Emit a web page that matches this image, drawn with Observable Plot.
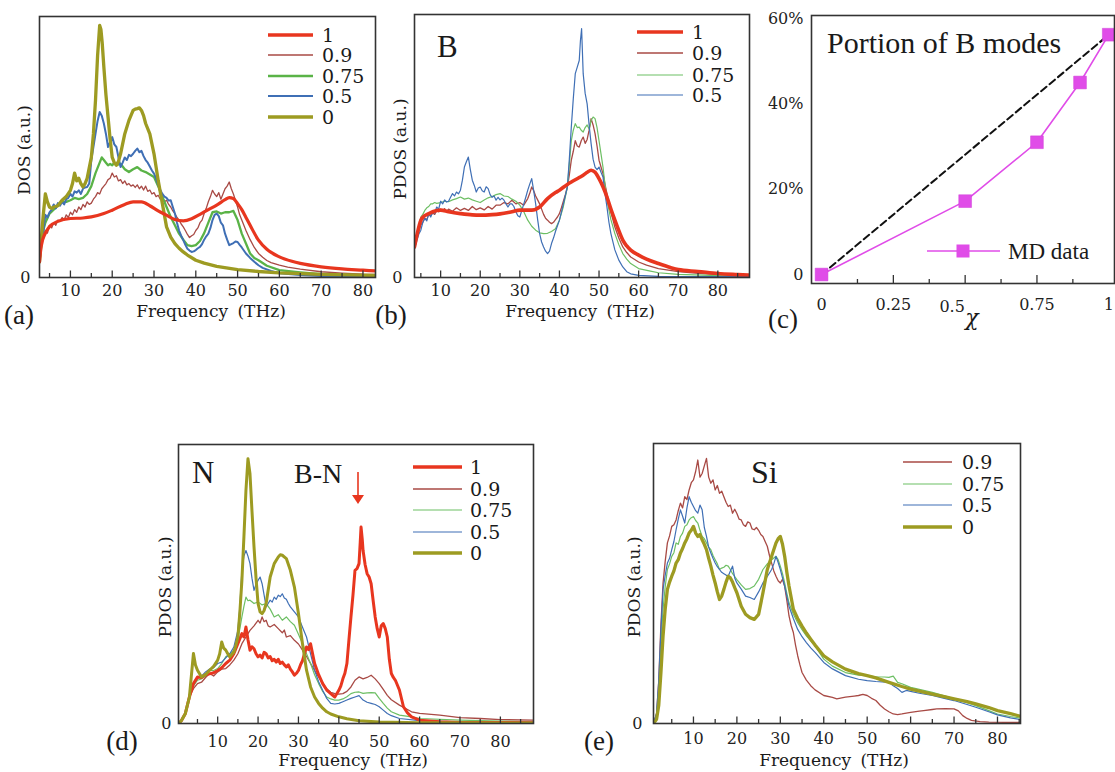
<!DOCTYPE html>
<html>
<head>
<meta charset="utf-8">
<script src="https://cdn.jsdelivr.net/npm/d3@7"></script>
<script src="https://cdn.jsdelivr.net/npm/@observablehq/plot@0.6"></script>
<style>
  html, body { margin: 0; padding: 0; background: #fff; overflow: hidden; }
  #fig { position: relative; width: 1115px; height: 772px; }
  #fig > svg { position: absolute; overflow: visible; }
</style>
</head>
<body>
<div id="fig"></div>
<script>
// ---------- spectra: [frequency (THz), density (% of panel height)] ----------

// (a) total DOS
const dosA_1 = [[2.6,6],[3,12],[4,17],[5,19.5],[7,21.5],[10,22.6],[13,22.8],[15,23.2],[18,24.5],[20,25.8],[23,28],[25,29],[27,29],[29,27.5],[31,25.5],[33,23.9],[35,22.2],[37,21.7],[39,22.5],[41,24.2],[43,26],[45,27.7],[47,29.8],[48,30.6],[49,30.2],[50,28.3],[51,26],[52,23],[53,20],[55,14.3],[57,10.8],[60,7.9],[63,6.2],[65,5.4],[70,4.1],[75,3.3],[80,2.8],[83,2.5]];
const dosA_09 = [[2.6,6],[3,12],[3.5,16],[4,18],[4.5,17],[5,20],[5.5,19],[6,21],[6.5,20],[7,22],[7.5,21.5],[8,23],[8.5,22],[9,24],[9.5,23],[10,25],[10.5,24],[11,26],[11.5,25],[12,27],[12.5,26],[13,28],[13.5,27],[14,29],[14.5,28],[15,28.5],[15.5,30],[16,31],[16.5,32.5],[17,32],[17.5,34],[18,35],[18.5,36],[19,37.5],[19.5,38],[20,40],[20.5,38.5],[21,39],[21.5,37],[22,37.5],[22.5,36],[23,37],[23.5,35.5],[24,36],[24.5,35],[25,35.5],[25.5,34.5],[26,35.5],[26.5,34],[27,35],[27.5,33.5],[28,35],[28.5,33],[29,33.5],[29.5,32],[30,32.5],[30.5,31],[31,31.5],[31.5,30],[32,30.5],[32.5,29],[33,29.6],[33.5,28],[34,27],[34.5,25.5],[35,24.5],[35.5,23],[36,22],[36.5,20.5],[37,19.4],[37.5,18],[38,16.5],[38.5,15.3],[39,16],[39.5,16.5],[40,18],[40.5,19],[41,21],[41.5,22],[42,24.5],[42.5,26.5],[43,29],[43.5,31],[44,33.4],[44.5,32],[45,31],[45.5,32.5],[46,30],[46.5,32],[47,34],[47.5,35],[48,36.6],[48.5,34],[49,32],[49.5,29.5],[50,27],[50.5,24],[51,22],[52,18],[53,14.5],[54,11.5],[55,9.2],[56,7.8],[57,6.5],[58,5.7],[60,4.7],[62,4],[65,3.2],[70,2.2],[75,1.7],[80,1.3],[83,1.2]];
const dosA_075 = [[2.6,6],[3,12],[3.5,18],[4,21],[5,24.5],[6,26],[7,27.5],[8,29],[9,29],[10,29.6],[11,30.5],[12,30],[13,30.5],[14,32],[15,35],[16,40],[17,44],[17.5,46],[18,45],[18.5,44],[19,43],[19.5,43.5],[20,43],[20.5,44],[21,43],[22,43.6],[23,41.5],[24,40.4],[25,41.5],[26,42.3],[27,41],[28,40.4],[29,39.5],[30,38.5],[31,35],[32,31],[33,27],[34,23.2],[35,20],[36,16.8],[37,14.5],[38,12.4],[39,12],[40,12.4],[41,14],[42,17],[43,21],[44,25],[45,25.3],[46,24.5],[47,25],[48,25],[49,25.5],[50,22],[51,16.8],[52,13],[53,9.2],[54,7.5],[55,6.6],[57,4.5],[60,2.8],[65,2],[70,1.3],[75,1],[83,0.8]];
const dosA_05 = [[2.6,6],[3,12],[3.5,17],[4,24],[4.5,23],[5,25],[5.5,26],[6,28],[6.5,26.5],[7,28.5],[7.5,27.5],[8,29],[8.5,28],[9,30],[9.5,30.5],[10,32],[10.5,31],[11,33],[11.5,32.5],[12,33.4],[12.5,32],[13,34],[13.5,34.5],[14,34.7],[14.5,36],[15,45],[15.5,50],[16,55],[16.5,60],[17,63.4],[17.5,62],[18,59],[18.5,55],[19,50],[19.5,52],[20,53.8],[20.5,51],[21,50],[21.5,46],[22,42.3],[22.5,44],[23,46],[23.5,45],[24,47],[24.5,46.5],[25,47.4],[25.5,48.5],[26,49.4],[26.5,48],[27,48.5],[27.5,46.5],[28,45],[28.5,44],[29,42.5],[29.5,41],[30,39.8],[30.5,38],[31,35.5],[31.5,33.5],[32,32],[32.5,31],[33,30.5],[33.5,29.5],[34,29.6],[34.5,27],[35,24.5],[35.5,21],[36,18],[36.5,16],[37,14.3],[37.5,12.5],[38,11],[38.5,10.3],[39,9.8],[39.5,10],[40,10.5],[40.5,11.2],[41,11.7],[41.5,12.8],[42,14.5],[42.5,15.8],[43,16.8],[43.5,19],[44,22],[44.5,24],[45,24.5],[45.5,23.5],[46,21],[46.5,20],[47,16.8],[47.5,14.5],[48,12.4],[48.5,12.8],[49,13.2],[49.5,13.8],[50,13.6],[50.5,12.5],[51,11.5],[52,9.2],[53,7.5],[54,6],[55,4.7],[56,3.7],[58,2.5],[60,1.6],[65,1],[70,0.6],[83,0.3]];
const dosA_0 = [[2.6,6],[3,14],[3.5,24],[4,32],[4.5,29],[5,27],[5.5,26.5],[6,27],[7,27.5],[8,29.6],[9,31],[10,33.4],[10.5,36],[11,40],[11.5,37],[12,38],[12.5,36],[13,34.7],[13.5,36],[14,38],[14.5,42],[15,46],[15.5,55],[16,67.9],[16.5,85],[17,96.6],[17.3,95],[17.6,90],[18,80.6],[18.5,70],[19,61.5],[19.5,53],[20,46],[20.5,44],[21,43],[21.5,44.5],[22,47.4],[23,55],[24,60.2],[25,64],[25.5,64.5],[26,64.7],[26.5,65],[27,64],[27.5,62],[28,59],[29,55],[30,47.4],[31,37.2],[32,28.3],[33,19.4],[34,15.5],[35,13],[36,11.2],[37,9.8],[38,8.6],[40,6.6],[42,5.5],[45,4.3],[50,3],[55,2.3],[60,1.8],[70,1.2],[83,0.8]];

// (b) boron partial DOS
const pdosB_1 = [[3.4,11.6],[4,16],[5,21.8],[6,23.5],[7,24.3],[8,25],[10,25.6],[12,25],[15,24.3],[18,23.8],[20,23.7],[23,23.9],[25,24.2],[28,25],[30,25.6],[33,25.6],[35,26.8],[37,30],[39,32.3],[40,33.2],[42,35.4],[43,36.3],[45,38],[46,38.9],[47,40],[48,40.8],[49,40],[50,37.6],[51,34.5],[52,30.6],[53,26],[54,21.8],[55,17.8],[56,14.2],[57,12],[58,10.4],[60,8.5],[62,7],[65,5.3],[68,3.8],[70,3],[75,2.3],[80,1.5],[85,1.1],[88,0.9]];
const pdosB_09 = [[3.4,11],[4,15],[4.5,17.5],[5,20],[5.5,21],[6,22.5],[6.5,22],[7,24],[7.5,23.5],[8,24.5],[8.5,24],[9,25.5],[9.5,25],[10,26],[10.5,25.2],[11,26.2],[11.5,25],[12,26],[13,25.2],[14,26.5],[15,25.5],[16,26.3],[17,25.5],[18,27],[19,25.8],[20,26.5],[21,25.7],[22,27],[23,26],[24,27.5],[25,27.5],[26,28.5],[27,28],[28,29.4],[29,28],[30,28.5],[31,27.5],[32,30],[32.5,32],[33,34.4],[33.5,33],[34,31],[34.5,29.5],[35,28],[35.5,26],[36,24],[36.5,22.5],[37,21.8],[37.5,21],[38,20.5],[38.5,21],[39,22],[39.5,23],[40,24.3],[40.5,26.5],[41,29],[41.5,31.5],[42,34.4],[42.5,39],[43,44.6],[43.5,48],[44,52],[44.5,50],[45,49.6],[45.5,52],[46,53.4],[46.5,51],[47,52.5],[47.5,56],[48,60.4],[48.5,58],[49,54.7],[49.5,50],[50,44.6],[50.5,42],[51,39.5],[51.5,35.5],[52,31.9],[53,25],[54,19.2],[55,15],[56,11.6],[57,9.5],[58,7.8],[60,5.9],[62,4.7],[65,3.4],[70,2.2],[75,1.6],[80,1.1],[88,0.7]];
const pdosB_075 = [[3.4,11],[4,16],[4.5,19],[5,23],[5.5,24],[6,25.5],[6.5,26.5],[7,27],[7.5,28],[8,28],[8.5,28.5],[9,28.2],[10,28.5],[11,29],[12,28.8],[13,29.5],[14,30],[15,30.6],[16,29.8],[17,30.2],[18,29.5],[19,29],[20,28.5],[21,29.5],[22,30.3],[23,30.8],[24,31.5],[25,31.9],[26,31],[27,30.8],[28,29.8],[29,29],[30,27.5],[31,25],[32,21.8],[33,19.5],[34,18],[35,17],[36,16.7],[37,16.8],[38,17.5],[39,18.5],[40,21.8],[41,27],[42,34.4],[42.5,43],[43,52],[43.5,56],[44,58.5],[44.5,57],[45,57.2],[45.5,56],[46,55.3],[46.5,57],[47,58],[47.5,56.5],[48,59.7],[48.5,61],[49,60.4],[49.5,57],[50,52],[50.5,47],[51,42],[51.5,35.5],[52,29.4],[53,22],[54,16.7],[55,12.5],[56,9.1],[57,7],[58,5.3],[60,3.4],[63,2.4],[65,1.8],[70,1.2],[80,0.7],[88,0.5]];
const pdosB_05 = [[3.4,11],[4,14],[4.5,16.5],[5,18],[5.5,21],[6,22.5],[6.5,21.5],[7,24.3],[7.5,23],[8,25],[8.5,24.5],[9,26.8],[9.5,26],[10,29],[10.5,28],[11,29.5],[11.5,28.7],[12,29],[12.5,30.5],[13,31.9],[13.5,31],[14,32.5],[14.5,31.8],[15,33.2],[15.5,37],[16,42],[16.5,44],[17,45.8],[17.5,41],[18,37],[18.5,35],[19,32.5],[19.5,34],[20,34.4],[20.5,33],[21,32.5],[21.5,34.5],[22,33.8],[22.5,31.5],[23,30.5],[23.5,31],[24,29.4],[24.5,30.5],[25,29.5],[25.5,30.2],[26,29.4],[26.5,28],[27,26.8],[27.5,28],[28,28],[28.5,27],[29,25],[29.5,23.5],[30,23],[30.5,25.5],[31,28],[31.5,30.5],[32,33.2],[32.5,35.5],[33,37.6],[33.5,33],[34,28],[34.5,22],[35,16.7],[35.5,13.5],[36,11.6],[36.5,10],[37,9.1],[37.5,10],[38,12.9],[38.5,15],[39,17.5],[40,21.8],[41,28],[42,34.4],[42.5,45],[43,57.2],[43.5,68],[44,77.5],[44.5,80],[45,82.5],[45.3,90],[45.6,94.6],[46,77.5],[46.5,70],[47,66],[47.5,58],[48,50.9],[48.5,45],[49,42],[49.5,41],[50,42],[50.5,40],[51,38.2],[51.5,32],[52,26.8],[52.5,21],[53,16.7],[54,10.5],[55,6.6],[56,4],[57,2.2],[58,1.4],[60,0.8],[65,0.4],[88,0.3]];

// (c) fraction of boron-dominated modes versus composition
const chi = [0, 0.5, 0.75, 0.9, 1];
const portionB = [0, 17.2, 31, 45, 56.2];
const chiTicks = [0, 0.25, 0.5, 0.75, 1];
const chiTickLabels = ["0", "0.25", "0.5", "0.75", "1"];
const portionTicks = [0, 20, 40, 60];
const portionTickLabels = ["0", "20%", "40%", "60%"];

// (d) nitrogen partial DOS
const pdosN_1 = [[0.3,0],[1,1],[2,3.6],[3,9.5],[4,14.3],[5,16.7],[6,16.5],[7,17.5],[8,17.8],[9,18.2],[10,19],[11,20],[12,21.5],[13,22.7],[14,25],[15,28.6],[16,32.2],[16.5,31],[17,34.6],[17.5,30],[18,26.3],[18.5,27.5],[19,26.8],[19.5,25],[20,23.9],[20.5,24.5],[21,23.5],[21.5,25.5],[22,25],[22.5,23.5],[23,24],[23.5,22.5],[24,23],[24.5,22],[25,23],[25.5,21.5],[26,22],[26.5,21],[27,20.3],[27.5,21],[28,19.5],[28.5,18.5],[29,17.3],[29.5,18],[30,19],[30.5,21],[31,22.5],[31.5,25],[32,27.4],[32.5,26.5],[33,28.6],[33.5,25],[34,21.5],[35,17.5],[36,14.3],[37,12],[38,10.7],[39,9.5],[40,11.9],[40.5,13.5],[41,16],[41.5,18],[42,21.5],[42.5,30],[43,38.2],[43.5,46],[44,54.9],[44.5,55.5],[45,57.3],[45.3,65],[45.5,70.4],[45.8,66],[46,62],[46.5,57],[47,53.7],[47.5,52.5],[48,50.1],[48.5,44],[49,38.2],[49.5,34],[50,31],[50.5,35],[51,35.8],[51.5,34],[52,31],[52.5,23],[53,17.9],[53.5,16.5],[54,15.5],[55,12],[56,6],[57,3.8],[58,2.4],[60,1.2],[65,0.6],[70,0.4],[88,0.3]];
const pdosN_09 = [[0.3,0],[1,1],[2,3.6],[3,9.5],[4,12.5],[5,14.3],[6,14.8],[7,16.5],[8,17.9],[9,17],[10,18.5],[11,19.5],[12,19.7],[13,21],[14,22.7],[15,25],[16,28.6],[17,31],[18,33.4],[19,35],[20,37],[20.5,36],[21,38.2],[21.5,36.5],[22,37],[22.5,35],[23,34.6],[24,35.5],[25,34],[26,32.5],[26.5,33.5],[27,31],[28,31.5],[29,29.8],[30,28.5],[31,26.3],[32,24],[33,21.5],[34,19],[35,16.7],[36,14.5],[37,12.5],[38,11.2],[39,10.7],[40,10.5],[41,10.7],[42,11.5],[43,13.1],[44,15.5],[45,16.7],[46,16],[47,16.5],[48,17.3],[49,16],[50,14.3],[51,12.2],[52,10.1],[53,8.5],[55,6.6],[57,5],[58,4.2],[60,3.6],[65,3],[70,2.1],[75,1.8],[80,1.4],[88,1.2]];
const pdosN_075 = [[0.3,0],[1,1],[2,3.6],[3,9.5],[4,13.5],[5,15.5],[6,16],[7,17],[8,19],[9,19],[10,19.7],[11,21.5],[12,23.9],[13,25],[14,26.3],[15,30],[16,38.2],[16.5,42],[17,45.3],[17.5,44],[18,44.2],[19,43],[20,43.6],[21,42.5],[22,43],[23,41],[24,38.2],[25,39],[26,37],[27,38.2],[28,36.5],[29,35.2],[30,32],[31,28.6],[32,25],[33,21.5],[34,17.5],[35,14.3],[36,11.5],[37,9.5],[38,8.8],[39,8.4],[40,8.4],[41,8.8],[42,9.6],[43,10.7],[44,11.2],[45,11.3],[46,10.8],[47,11],[48,11.1],[49,11],[50,9],[51,7.2],[52,5.5],[53,4.2],[55,3],[58,2.4],[60,1.8],[70,1.2],[88,0.6]];
const pdosN_05 = [[0.3,0],[1,1],[2,3.6],[3,9.5],[4,14],[5,16.1],[6,17],[7,18.5],[8,19.5],[9,20],[10,21.5],[11,22],[12,23.5],[13,25],[14,27.4],[15,33.4],[15.5,42],[16,54.9],[16.5,60],[17,62],[17.5,60],[18,57.3],[18.5,52],[19,47.7],[19.5,50],[20,51.3],[20.5,52.5],[21,50.1],[21.5,46],[22,41.8],[22.5,43],[23,44.2],[23.5,43.5],[24,45.3],[24.5,44.5],[25,46],[25.5,45.5],[26,46.5],[26.5,45],[27,44.5],[27.5,43],[28,41.8],[29,40],[30,38.2],[31,34.5],[32,31],[33,25],[34,19.1],[35,15],[36,11.9],[37,9],[38,7.2],[39,7],[40,7.2],[41,7.8],[42,8.4],[43,9],[44,9.5],[45,10],[45.5,9.2],[46,8.4],[47,7.6],[48,7.2],[49,6.8],[50,6],[51,4.8],[52,3.6],[53,2.8],[55,1.8],[60,1],[70,0.6],[88,0.4]];
const pdosN_0 = [[0.3,0],[1,1],[2,3.6],[3,9.5],[4,25.1],[4.5,21],[5,19.1],[6,16.7],[7,17.5],[8,19.1],[9,20.5],[10,22.7],[10.5,25],[11,29.2],[11.5,27],[12,26.3],[12.5,25],[13,23.9],[14,25.5],[14.5,28],[15,31],[15.5,40],[16,51.3],[16.5,67],[17,83.5],[17.5,94.9],[18,89.5],[18.5,76],[19,63.2],[19.5,52],[20,43],[20.5,40],[21,39.4],[21.5,40.5],[22,43],[23,52.5],[24,57.3],[25,59.7],[25.5,60.5],[26,60.3],[27,59.1],[28,54.9],[29,48.9],[30,39.4],[31,28.6],[32,19.1],[33,13.1],[34,9.5],[35,7.2],[36,5.5],[37,4.2],[38,3.4],[40,2.4],[42,1.7],[45,1],[50,0.5],[60,0.3],[88,0.2]];

// (e) silicon partial DOS
const pdosSi_09 = [[0.8,0],[1.5,3.5],[2,15],[2.5,35],[3,50.2],[3.5,58],[4,64.5],[4.5,67],[5,70.4],[5.5,71],[6,72.7],[6.5,76],[7,78.7],[7.5,77],[8,81],[8.5,80],[9,83.4],[9.5,86],[10,87],[10.5,90],[11,94.1],[11.5,88],[12,89.3],[12.5,92],[13,94.7],[13.5,88],[14,85.8],[14.5,87],[15,83.4],[15.5,85],[16,82.2],[16.5,83],[17,81],[17.5,79],[18,77.5],[18.5,78],[19,75.1],[19.5,76.5],[20,75],[20.5,73],[21,72.7],[21.5,71],[22,70.4],[22.5,72],[23,71.6],[23.5,69.5],[24,69.2],[24.5,70],[25,69],[25.5,67.5],[26,66.8],[26.5,65],[27,63.3],[27.5,60],[28,57.3],[28.5,54.5],[29,52.6],[29.5,51],[30,50.2],[30.5,51.5],[31,49],[31.5,44],[32,38.4],[32.5,35],[33,32.5],[33.5,28],[34,24.2],[34.5,21],[35,18.2],[36,15.5],[37,13.5],[38,12],[40,10],[42,9.3],[43,8.8],[45,9.4],[47,9.8],[48,10],[49,10.4],[50,10],[51,9],[52,8.2],[53,6.5],[54,5.2],[55,4.2],[56,3.4],[57,3.2],[58,3.4],[60,4],[62,4.4],[63,4.6],[65,5],[66,5.2],[68,5.3],[70,5.2],[71,4.5],[72,2.8],[73,1.8],[74,1.1],[76,0.7],[78,0.5],[82,0.4],[85.3,0.4]];
const pdosSi_075 = [[0.8,0],[1.5,3],[2,12],[2.5,28],[3,40.8],[3.5,49],[4,55],[4.5,57],[5,59.7],[5.5,61],[6,64.5],[6.5,64],[7,66.8],[7.5,68],[8,70.4],[8.5,71],[9,72.7],[9.5,73.5],[10,73.9],[10.5,72.5],[11,71.6],[11.5,69],[12,66.8],[12.5,66],[13,64.5],[13.5,63],[14,62.1],[14.5,60],[15,58.5],[15.5,57],[16,55],[16.5,55.5],[17,55.8],[17.5,56.5],[18,56.2],[18.5,55],[19,53.5],[19.5,52.5],[20,51.4],[21,49.5],[22,47.9],[23,48.2],[24,49.1],[25,51.5],[26,55],[27,57],[28,58.5],[29,59.7],[29.5,58.5],[30,56.2],[30.5,53.5],[31,50.2],[31.5,46.5],[32,43.1],[33,39],[34,36],[35,33.5],[36,31.3],[37,29.5],[38,27.7],[40,23],[42,20.5],[45,18.2],[48,17.3],[50,17.1],[52,16.7],[54,16.6],[55,16.5],[56,16.9],[57,14.7],[58,14.2],[60,12.9],[62,12.2],[65,11.1],[68,9.8],[70,8.8],[73,7.4],[75,6.4],[78,4.6],[80,3.4],[83,2.5],[85.3,1.9]];
const pdosSi_05 = [[0.8,0],[1.5,3.5],[2,15],[2.5,33],[3,47.9],[3.5,53],[4,57.3],[4.5,59],[5,62.1],[5.5,65],[6,69.2],[6.5,73],[7,76.3],[7.5,74],[8,71.6],[8.5,77],[9,81],[9.5,79],[10,77.5],[10.5,76],[11,75.1],[11.5,78],[12,76.3],[12.5,70],[13,66.8],[13.5,63],[14,60.9],[14.5,59],[15,57.3],[15.5,56],[16,55],[16.5,54],[17,53.5],[17.5,53],[18,52.6],[18.5,54.5],[19,56.2],[19.5,52],[20,50.2],[21,48],[22,45.5],[23,45],[24,44.3],[25,47],[26,50.2],[27,52.5],[28,55],[28.5,57],[29,59.7],[29.5,57.5],[30,55],[30.5,52],[31,49.1],[31.5,45.5],[32,41.9],[33,37.5],[34,33.6],[35,31],[36,28.9],[37,27],[38,25.4],[40,21.8],[42,19.5],[45,17.1],[48,15.8],[50,15.3],[52,15],[55,14.7],[56,13.5],[57,12.5],[58,11.1],[59,11.8],[60,11.5],[62,10.8],[65,10],[68,8.9],[70,8.2],[73,6.8],[75,5.8],[78,4.2],[80,3.1],[83,2],[85.3,1.4]];
const pdosSi_0 = [[0.8,0],[1.5,1.5],[2,6.4],[2.5,18],[3,31.3],[3.5,41],[4,47.9],[4.5,50.5],[5,52.6],[5.5,54.5],[6,57.3],[6.5,58.5],[7,60.9],[7.5,62.5],[8,64.5],[8.5,66],[9,68],[9.5,69],[10,70.4],[10.5,68],[11,66.8],[11.5,67.5],[12,65.6],[12.5,64],[13,62.1],[13.5,59],[14,56.2],[14.5,53],[15,50.2],[15.5,47],[16,44.3],[16.5,45.5],[17,47.9],[17.5,50.5],[18,52.6],[18.5,52],[19,50.5],[19.5,48.5],[20,46.7],[21,41.9],[22,39],[23,37.8],[24,37.2],[25,39],[26,46.7],[27,55],[28,59.7],[29,64.5],[29.5,66],[30,66.8],[30.5,64],[31,59.7],[31.5,54],[32,49.1],[33,40.8],[34,37.5],[35,34.8],[36,32.3],[37,30.1],[38,28],[40,24.2],[42,22],[45,19.4],[48,17.8],[50,17.1],[52,16.3],[55,14.7],[58,13.2],[60,12.3],[62,11.6],[65,10.5],[68,9.5],[70,8.8],[73,7.8],[75,7],[78,5.7],[80,4.6],[83,3.5],[85.3,2.6]];

// axis ticks (THz)
const freqMajor = [10, 20, 30, 40, 50, 60, 70, 80];
const freqMinor = [5, 15, 25, 35, 45, 55, 65, 75, 85];

// line styles per composition
const style = {
  "1":    {color: "#e8361f", width: 3.4},
  "0.9":  {color: "#a84a45", width: 1.3},
  "0.75": {color: "#5ab347", width: 1.2},
  "0.5":  {color: "#3f6fb5", width: 1.2},
  "0":    {color: "#9d9b22", width: 3.4}
};

const fig = document.getElementById("fig");
const FONT = "DejaVu Serif";

function pxTicks(domain, h, px) { return px * (domain[1] - domain[0]) / h; }

// one spectrum panel: frame given in page pixels
function spectrumPanel({frame, xDomain, series, tickPad, zeroPad}) {
  const [x0, y0, x1, y1] = frame;
  const w = x1 - x0, h = y1 - y0;
  const ml = 40, mr = 6, mt = 6, mb = 40;
  const yDomain = [0, 100];
  const inDom = t => t > xDomain[0] && t < xDomain[1];
  const svg = Plot.plot({
    width: w + ml + mr, height: h + mt + mb,
    marginLeft: ml, marginRight: mr, marginTop: mt, marginBottom: mb,
    x: {domain: xDomain}, y: {domain: yDomain},
    style: {fontFamily: FONT, fontSize: "16px", color: "#222", background: "transparent", overflow: "visible"},
    marks: [
      ...series.map(s => Plot.line(s.data, {
        x: d => d[0], y: d => d[1], stroke: s.color, strokeWidth: s.width,
        curve: s.curve || "linear", strokeLinejoin: "round", clip: true
      })),
      Plot.ruleX(freqMinor.filter(inDom), {x: d => d, y1: 0, y2: pxTicks(yDomain, h, 4), stroke: "#333", strokeWidth: 1.3}),
      Plot.ruleX(freqMajor.filter(inDom), {x: d => d, y1: 0, y2: pxTicks(yDomain, h, 6.5), stroke: "#333", strokeWidth: 1.3}),
      Plot.axisX(freqMajor, {tickSize: 0, tickPadding: tickPad, fontSize: 16, label: null}),
      Plot.axisY([0], {tickSize: 0, tickPadding: zeroPad, fontSize: 16, label: null}),
      Plot.frame({stroke: "#333", strokeWidth: 1.6})
    ]
  });
  svg.style.left = (x0 - ml) + "px";
  svg.style.top = (y0 - mt) + "px";
  fig.appendChild(svg);
}

const S = (key, data, over = {}) => ({data, ...style[key], ...over});

// (a)
spectrumPanel({
  frame: [39, 16, 375, 277], xDomain: [2.6, 83], tickPad: 7, zeroPad: 9,
  series: [
    S("0.9", dosA_09), S("0.75", dosA_075, {width: 2.3}), S("0.5", dosA_05, {width: 2}),
    S("0", dosA_0, {width: 3.3}), S("1", dosA_1, {curve: "monotone-x", width: 3.2})
  ]
});
// (b)
spectrumPanel({
  frame: [414, 14, 749, 277], xDomain: [3.4, 88], tickPad: 7, zeroPad: 12,
  series: [
    S("0.9", pdosB_09), S("0.75", pdosB_075, {color: "#6dbf64"}), S("0.5", pdosB_05),
    S("1", pdosB_1, {curve: "monotone-x", width: 3.6})
  ]
});
// (d)
spectrumPanel({
  frame: [178, 444, 533, 723], xDomain: [0.3, 88.2], tickPad: 12, zeroPad: 7,
  series: [
    S("0.9", pdosN_09), S("0.75", pdosN_075, {color: "#6dbf64"}), S("0.5", pdosN_05),
    S("1", pdosN_1, {width: 3}), S("0", pdosN_0, {width: 3})
  ]
});
// (e)
spectrumPanel({
  frame: [653, 443, 1020, 723], xDomain: [0.8, 85.3], tickPad: 9, zeroPad: 11,
  series: [
    S("0.9", pdosSi_09), S("0.75", pdosSi_075, {color: "#6dbf64"}), S("0.5", pdosSi_05),
    S("0", pdosSi_0, {width: 3.3})
  ]
});

// (c) portion of B modes
(function () {
  const [x0, y0, x1, y1] = [811, 15, 1114, 283];
  const w = x1 - x0, h = y1 - y0;
  const ml = 50, mr = 6, mt = 6, mb = 40;
  const yDomain = [-2.1, 60.7];
  const pts = chi.map((c, i) => ({chi: c, p: portionB[i]}));
  const ideal = [pts[0], pts[pts.length - 1]];
  const labelOf = d => chiTickLabels[chiTicks.indexOf(d)];
  const svg = Plot.plot({
    width: w + ml + mr, height: h + mt + mb,
    marginLeft: ml, marginRight: mr, marginTop: mt, marginBottom: mb,
    x: {domain: [-0.035, 1.02]}, y: {domain: yDomain},
    style: {fontFamily: FONT, fontSize: "16px", color: "#222", background: "transparent", overflow: "visible"},
    marks: [
      Plot.line(ideal, {x: "chi", y: "p", stroke: "#111", strokeWidth: 2, strokeDasharray: "7,4"}),
      Plot.line(pts, {x: "chi", y: "p", stroke: "#e04ce8", strokeWidth: 1.6}),
      Plot.dot(pts, {x: "chi", y: "p", symbol: "square", r: 7.2, fill: "#e04ce8", stroke: "#d040d8", strokeWidth: 0.5}),
      Plot.ruleX([0.125, 0.375, 0.625, 0.875], {x: d => d, y1: yDomain[0], y2: yDomain[0] + pxTicks(yDomain, h, 4), stroke: "#333", strokeWidth: 1.3}),
      Plot.ruleX([0.25, 0.5, 0.75], {x: d => d, y1: yDomain[0], y2: yDomain[0] + pxTicks(yDomain, h, 8), stroke: "#333", strokeWidth: 1.3}),
      Plot.axisX(chiTicks.filter(d => d !== 0.5), {tickSize: 0, tickPadding: 15, fontSize: 16, label: null, tickFormat: labelOf}),
      // the 0.5 label sits a little left to leave room for the χ symbol
      Plot.text([0.5], {x: d => d, y: yDomain[0], text: labelOf, dx: -13, dy: 23, fontSize: 16, fill: "#222"}),
      Plot.axisY(portionTicks, {tickSize: 0, tickPadding: 8, fontSize: 16, label: null,
        tickFormat: d => portionTickLabels[portionTicks.indexOf(d)]}),
      Plot.frame({stroke: "#333", strokeWidth: 1.6})
    ]
  });
  svg.style.left = (x0 - ml) + "px";
  svg.style.top = (y0 - mt) + "px";
  fig.appendChild(svg);
})();

// ---------- annotation layer: axis titles, panel letters, legends ----------
const ov = d3.select(fig).append("svg")
  .attr("width", 1115).attr("height", 772)
  .style("left", "0px").style("top", "0px").style("pointer-events", "none");

function txt(x, y, s, o = {}) {
  const t = ov.append("text")
    .attr("x", x).attr("y", y)
    .attr("font-family", o.family || FONT)
    .attr("font-size", o.size || 18)
    .attr("text-anchor", o.anchor || "middle")
    .attr("fill", o.fill || "#1a1a1a")
    .text(s);
  if (o.central !== false) t.attr("dominant-baseline", "central");
  if (o.rotate) t.attr("transform", `rotate(${o.rotate},${x},${y})`);
  if (o.spacing) t.attr("word-spacing", o.spacing);
  if (o.italic) t.attr("font-style", "italic");
  return t;
}

function legend(x1, x2, lx, rows, keys, over = {}) {
  keys.forEach((k, i) => {
    const st = {...style[k], ...(over[k] || {})};
    ov.append("line").attr("x1", x1).attr("x2", x2).attr("y1", rows[i]).attr("y2", rows[i])
      .attr("stroke", st.color).attr("stroke-width", st.width);
    txt(lx, rows[i], k, {anchor: "start", size: 19});
  });
}

const SERIF2 = "Liberation Serif";

// (a)
txt(24, 150, "DOS (a.u.)", {rotate: -90, size: 17});
txt(211, 311, "Frequency (THz)", {size: 17, spacing: 4});
txt(19, 315, "(a)", {family: SERIF2, size: 27});
legend(268, 313, 322, [35, 55, 76, 96, 117], ["1", "0.9", "0.75", "0.5", "0"],
  {"0.75": {width: 2.5}, "0.5": {width: 2}});

// (b)
txt(400, 149, "PDOS (a.u.)", {rotate: -90, size: 17});
txt(580, 311, "Frequency (THz)", {size: 17, spacing: 4});
txt(391, 315, "(b)", {family: SERIF2, size: 27});
txt(437, 57, "B", {family: SERIF2, size: 31, anchor: "start", central: false});
legend(637, 683, 692, [32, 53, 75, 95], ["1", "0.9", "0.75", "0.5"], {"0.75": {color: "#6dbf64"}});

// (c)
txt(827, 53, "Portion of B modes", {family: SERIF2, size: 30, anchor: "start", central: false});
txt(783, 319, "(c)", {family: SERIF2, size: 27});
txt(972, 317, "χ", {size: 22, italic: true});
ov.append("line").attr("x1", 927).attr("x2", 1000).attr("y1", 251).attr("y2", 251)
  .attr("stroke", "#e04ce8").attr("stroke-width", 1.6);
ov.append("rect").attr("x", 956.5).attr("y", 244.5).attr("width", 13).attr("height", 13).attr("fill", "#e04ce8");
txt(1008, 251, "MD data", {family: SERIF2, size: 23, anchor: "start"});

// (d)
txt(165, 587, "PDOS (a.u.)", {rotate: -90, size: 17});
txt(353, 760, "Frequency (THz)", {size: 17, spacing: 4});
txt(122, 741, "(d)", {family: SERIF2, size: 27});
txt(192, 483, "N", {family: SERIF2, size: 31, anchor: "start", central: false});
txt(294, 483, "B-N", {family: SERIF2, size: 28, anchor: "start", central: false});
ov.append("line").attr("x1", 358).attr("x2", 358).attr("y1", 472).attr("y2", 497)
  .attr("stroke", "#e8361f").attr("stroke-width", 1.6);
ov.append("path").attr("d", "M352,495 L364,495 L358,504 Z").attr("fill", "#e8361f");
legend(413, 462, 470, [467, 489, 510, 532, 553], ["1", "0.9", "0.75", "0.5", "0"], {"0.75": {color: "#6dbf64"}});

// (e)
txt(634, 587, "PDOS (a.u.)", {rotate: -90, size: 17});
txt(834, 760, "Frequency (THz)", {size: 17, spacing: 4});
txt(599, 741, "(e)", {family: SERIF2, size: 27});
txt(751, 483, "Si", {family: SERIF2, size: 32, anchor: "start", central: false});
legend(903, 952, 962, [462, 484, 505, 527], ["0.9", "0.75", "0.5", "0"], {"0.75": {color: "#6dbf64"}});
</script>
</body>
</html>
